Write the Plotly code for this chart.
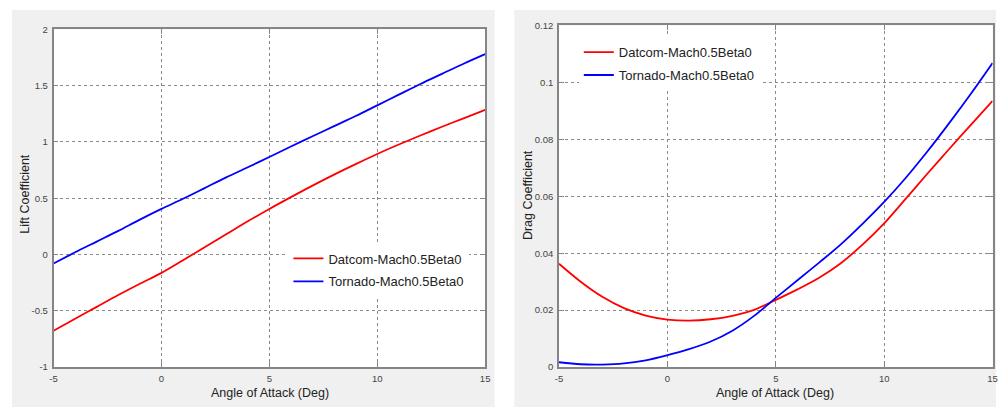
import plotly.graph_objects as go

# ---------------- data ----------------
alpha = [-5, -4, -3, -2, -1, 0, 1, 2, 3, 4, 5, 6, 7, 8, 9, 10, 11, 12, 13, 14, 15]

cl_datcom = [-0.677, -0.57, -0.465, -0.36, -0.26, -0.163, -0.05, 0.065, 0.18, 0.295, 0.405,
             0.51, 0.612, 0.71, 0.803, 0.893, 0.977, 1.057, 1.135, 1.21, 1.285]
cl_tornado = [-0.08, 0.02, 0.115, 0.21, 0.31, 0.405, 0.495, 0.59, 0.685, 0.775, 0.866,
              0.96, 1.05, 1.14, 1.23, 1.325, 1.42, 1.515, 1.605, 1.695, 1.78]

cd_datcom = [0.0363, 0.0300, 0.0247, 0.0207, 0.0181, 0.0167, 0.0163, 0.0168, 0.0180, 0.0201, 0.0236,
             0.0273, 0.0314, 0.0365, 0.0430, 0.0505, 0.0592, 0.0680, 0.0766, 0.0851, 0.0935]
cd_tornado = [0.0017, 0.0010, 0.0009, 0.0013, 0.0024, 0.0042, 0.0063, 0.0090, 0.0128, 0.0180, 0.0243,
              0.0305, 0.0367, 0.0431, 0.0503, 0.0580, 0.0665, 0.0758, 0.0857, 0.0960, 0.1068]

series_names = ["Datcom-Mach0.5Beta0", "Tornado-Mach0.5Beta0"]
series_colors = ["#ff0000", "#0000ff"]

x_ticks = [-5, 0, 5, 10, 15]
x_ticklabels = ["-5", "0", "5", "10", "15"]
cl_ticks = [-1, -0.5, 0, 0.5, 1, 1.5, 2]
cl_ticklabels = ["-1", "-0.5", "0", "0.5", "1", "1.5", "2"]
cd_ticks = [0, 0.02, 0.04, 0.06, 0.08, 0.1, 0.12]
cd_ticklabels = ["0", "0.02", "0.04", "0.06", "0.08", "0.1", "0.12"]

x_title = "Angle of Attack (Deg)"
cl_title = "Lift Coefficient"
cd_title = "Drag Coefficient"

# ---------------- layout helpers ----------------
W, H = 1005, 412
def px(x):
    return x / W
def py(y):
    return 1 - y / H

FONT = "Liberation Sans, Arial, sans-serif"
AX_COLOR = "#858585"
GRID_COLOR = "#8a8a8a"
TICK_FONT = dict(family=FONT, size=9.5, color="#444444")
TITLE_FONT = dict(family=FONT, size=12.5, color="#222222")
LEG_FONT = dict(family=FONT, size=13, color="#222222")

L_box = (50, 485.5, 24, 371)   # x0, x1, ytop, ybottom  (pixels)
R_box = (560, 997.5, 20, 371)

fig = go.Figure()

for i, (vals, name, col) in enumerate(zip([cl_datcom, cl_tornado], series_names, series_colors)):
    fig.add_trace(go.Scatter(x=alpha, y=vals, mode="lines", name=name, legendgroup="L%d" % i,
                             line=dict(color=col, width=1.8, shape="spline", smoothing=0.9),
                             xaxis="x", yaxis="y", legend="legend"))
for i, (vals, name, col) in enumerate(zip([cd_datcom, cd_tornado], series_names, series_colors)):
    fig.add_trace(go.Scatter(x=alpha, y=vals, mode="lines", name=name, legendgroup="R%d" % i,
                             line=dict(color=col, width=1.8, shape="spline", smoothing=0.9),
                             xaxis="x2", yaxis="y2", legend="legend2"))

def xaxis(domain, anchor):
    return dict(domain=domain, anchor=anchor, range=[-5, 15], tickmode="array",
                tickvals=x_ticks, ticktext=x_ticklabels, showline=True, linecolor=AX_COLOR,
                linewidth=1.5, mirror="ticks", ticks="inside", ticklen=5, tickcolor=AX_COLOR,
                showgrid=True, gridcolor=GRID_COLOR, griddash="dot", gridwidth=1,
                zeroline=False, tickfont=TICK_FONT, ticklabelstandoff=2)

def yaxis(domain, anchor, rng, tv, tt):
    return dict(domain=domain, anchor=anchor, range=rng, tickmode="array",
                tickvals=tv, ticktext=tt, showline=True, linecolor=AX_COLOR,
                linewidth=1.5, mirror="ticks", ticks="inside", ticklen=5, tickcolor=AX_COLOR,
                showgrid=True, gridcolor=GRID_COLOR, griddash="dot", gridwidth=1,
                zeroline=False, tickfont=TICK_FONT, ticklabelstandoff=2)

shapes = []
for (gx0, gx1) in [(8, 495), (515, 1001)]:
    shapes.append(dict(type="rect", xref="paper", yref="paper", x0=px(gx0), x1=px(gx1),
                       y0=py(412), y1=py(4), fillcolor="#f0f0f0", line=dict(width=0), layer="below"))
for b in [L_box, R_box]:
    shapes.append(dict(type="rect", xref="paper", yref="paper", x0=px(b[0]), x1=px(b[1]),
                       y0=py(b[3]), y1=py(b[2]), fillcolor="white", line=dict(width=0), layer="below"))

annotations = [
    dict(text=x_title, xref="paper", yref="paper", x=px(268), y=py(398), showarrow=False,
         xanchor="center", yanchor="middle", font=TITLE_FONT),
    dict(text=x_title, xref="paper", yref="paper", x=px(778), y=py(398), showarrow=False,
         xanchor="center", yanchor="middle", font=TITLE_FONT),
    dict(text=cl_title, xref="paper", yref="paper", x=px(21), y=py(193), showarrow=False,
         textangle=-90, xanchor="center", yanchor="middle", font=TITLE_FONT),
    dict(text=cd_title, xref="paper", yref="paper", x=px(529), y=py(194), showarrow=False,
         textangle=-90, xanchor="center", yanchor="middle", font=TITLE_FONT),
]

fig.update_layout(
    width=W, height=H, margin=dict(l=0, r=0, t=0, b=0),
    paper_bgcolor="white", plot_bgcolor="white",
    xaxis=xaxis([px(L_box[0]), px(L_box[1])], "y"),
    yaxis=yaxis([py(L_box[3]), py(L_box[2])], "x", [-1, 2], cl_ticks, cl_ticklabels),
    xaxis2=xaxis([px(R_box[0]), px(R_box[1])], "y2"),
    yaxis2=yaxis([py(R_box[3]), py(R_box[2])], "x2", [0, 0.12], cd_ticks, cd_ticklabels),
    legend=dict(x=px(287), y=py(244), xanchor="left", yanchor="top", bgcolor="white",
                borderwidth=0, font=LEG_FONT, tracegroupgap=3, itemwidth=30),
    legend2=dict(x=px(580), y=py(32), xanchor="left", yanchor="top", bgcolor="white",
                 borderwidth=0, font=LEG_FONT, tracegroupgap=3, itemwidth=30),
    shapes=shapes, annotations=annotations, showlegend=True,
)

fig.write_html("out.html", config={"displayModeBar": False},
               post_script="document.body.style.margin='0px';")
